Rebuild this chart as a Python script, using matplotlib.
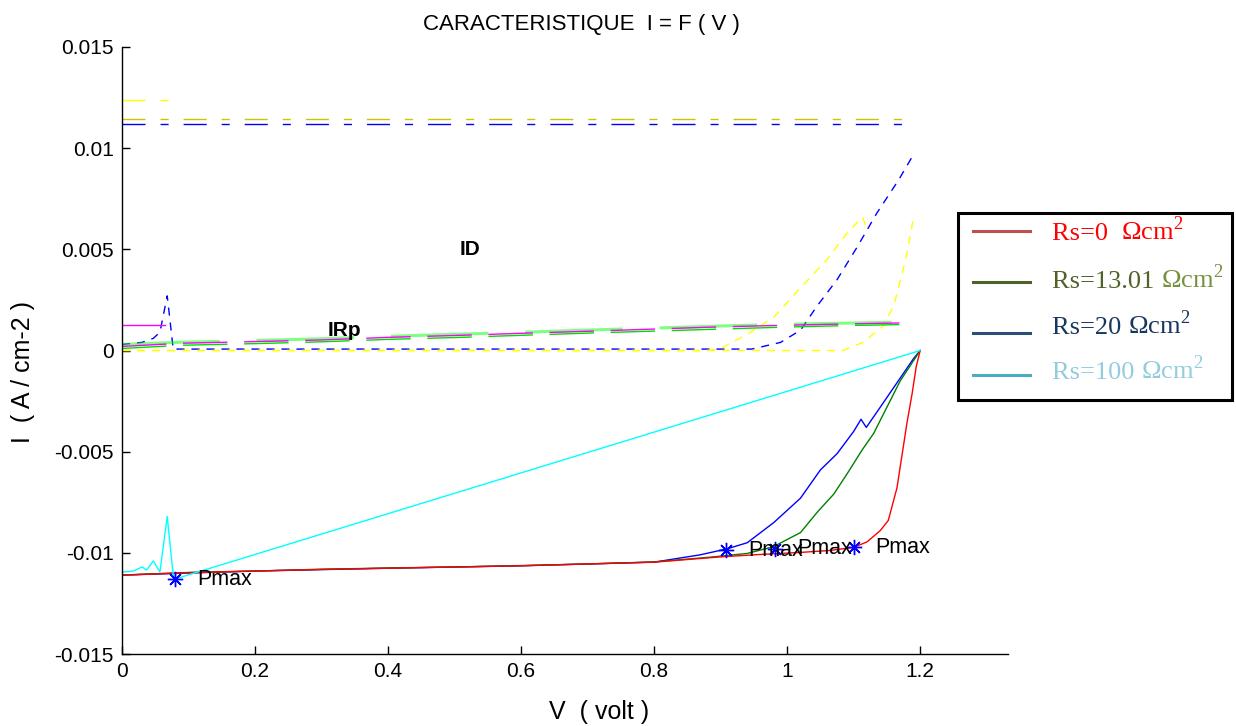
import numpy as np
import matplotlib
matplotlib.use('Agg')
import matplotlib.pyplot as plt
from matplotlib.patches import Rectangle
from matplotlib.lines import Line2D

plt.rcParams['font.family'] = ['Liberation Sans', 'DejaVu Sans']
plt.rcParams['mathtext.fontset'] = 'custom'
plt.rcParams['mathtext.rm'] = 'Liberation Serif'

# --- data ---
# saturation current lines (dash-dot, top)
top_x = [0.0, 1.18]
top_yellow = [0.01145, 0.01145]
top_blue = [0.0112, 0.0112]
top_short_x = [0.0, 0.07]
top_short_yellow = [0.0124, 0.0124]

# ID curves (dashed)
id_yellow1_x = [0.0, 0.3, 0.6, 0.88, 0.9, 0.94, 0.98, 1.02, 1.06, 1.09, 1.113, 1.118]
id_yellow1_y = [0.0, 0.0, 0.0, 0.0, 0.0001, 0.0008, 0.00165, 0.0031, 0.0045, 0.0058, 0.0066, 0.0062]
id_yellow2_x = [0.0, 0.5, 0.9, 1.084, 1.114, 1.144, 1.16, 1.173, 1.182, 1.19]
id_yellow2_y = [0.0, 0.0, 0.0, 0.0, 0.0004, 0.0012, 0.0022, 0.0038, 0.0051, 0.0066]
id_blue_x = [0.0, 0.03, 0.047, 0.057, 0.068, 0.077, 0.3, 0.947, 0.99, 1.02, 1.045, 1.075,
             1.105, 1.135, 1.167, 1.192]
id_blue_y = [0.0003, 0.0004, 0.0006, 0.0009, 0.0027, 0.00007, 0.00007, 0.00007, 0.0004,
             0.001, 0.0022, 0.0035, 0.0051, 0.0068, 0.0084, 0.0098]

# IRp curves (long dashes)
irp_x = [0.0, 0.09, 0.2, 0.3, 0.4, 0.5, 0.6, 0.7, 0.8, 0.9, 1.0, 1.1, 1.17]
irp_magenta = [0.0002, 0.00036, 0.00044, 0.00052, 0.00065, 0.00074, 0.00085, 0.00095,
               0.00106, 0.00117, 0.00125, 0.00132, 0.00136]
irp_green_hi = [0.0003, 0.00041, 0.00049, 0.00058, 0.0007, 0.0008, 0.0009, 0.00101,
                0.00111, 0.00121, 0.0013, 0.00136, 0.0014]
irp_green_lo = [0.0001, 0.00026, 0.00034, 0.00043, 0.00055, 0.00064, 0.00075, 0.00086,
                0.00096, 0.00106, 0.00116, 0.00124, 0.00128]
irp_left_x = [0.0, 0.065]
irp_left_magenta = [0.00125, 0.00125]

# I-V characteristics
red_x = [0, 0.1, 0.2, 0.3, 0.4, 0.5, 0.6, 0.7, 0.8, 0.9, 0.96, 1.02, 1.065, 1.1, 1.12,
         1.14, 1.152, 1.165, 1.173, 1.18, 1.188, 1.194, 1.2]
red_y = [-0.0111, -0.01098, -0.0109, -0.01082, -0.01076, -0.0107, -0.01064, -0.01055,
         -0.01046, -0.0102, -0.01008, -0.00998, -0.00988, -0.00973, -0.00946, -0.0089,
         -0.0084, -0.0068, -0.0051, -0.0036, -0.0021, -0.0008, 0.0]
green_x = [0, 0.1, 0.2, 0.3, 0.4, 0.5, 0.6, 0.7, 0.8, 0.889, 0.94, 0.979, 1.02, 1.045,
           1.07, 1.09, 1.113, 1.13, 1.15, 1.17, 1.19, 1.2]
green_y = [-0.0111, -0.01097, -0.0109, -0.01081, -0.01075, -0.0107, -0.01063, -0.01055,
           -0.01045, -0.0102, -0.01003, -0.0097, -0.009, -0.008, -0.0071, -0.0061,
           -0.0049, -0.0041, -0.0028, -0.0015, -0.0005, 0.0]
blue_x = [0, 0.2, 0.4, 0.6, 0.8, 0.869, 0.91, 0.94, 0.98, 1.02, 1.05, 1.075, 1.1, 1.111,
          1.119, 1.14, 1.165, 1.19, 1.2]
blue_y = [-0.0111, -0.0109, -0.01076, -0.01064, -0.01046, -0.0101, -0.0098, -0.0095,
          -0.0085, -0.0073, -0.0059, -0.0051, -0.004, -0.0034, -0.0038, -0.0028, -0.0016,
          -0.0004, 0.0]
cyan_x = [0, 0.017, 0.03, 0.037, 0.047, 0.057, 0.068, 0.077, 0.082, 1.2]
cyan_y = [-0.01095, -0.0109, -0.0107, -0.01085, -0.0104, -0.01095, -0.0082, -0.0111,
          -0.01127, 0.0]

pmax_x = [0.08, 0.908, 0.982, 1.1]
pmax_y = [-0.0113, -0.00988, -0.0098, -0.00973]

id_label_pos = (0.523, 0.005)
irp_label_pos = (0.335, 0.001)

yticks = [-0.015, -0.01, -0.005, 0, 0.005, 0.01, 0.015]
ytick_labels = ['-0.015', '-0.01', '-0.005', '0', '0.005', '0.01', '0.015']
xticks = [0, 0.2, 0.4, 0.6, 0.8, 1, 1.2]
xtick_labels = ['0', '0.2', '0.4', '0.6', '0.8', '1', '1.2']

legend_labels = ['Rs=0  ', 'Rs=13.01 ', 'Rs=20 ', 'Rs=100 ']
legend_line_colors = ['#c0504d', '#4f6228', '#2c4d75', '#4bacc6']
legend_text_colors = ['#ff0000', '#4f6228', '#17375e', '#93cddd']
legend_unit_colors = ['#ff0000', '#76923c', '#17375e', '#93cddd']

# --- figure ---
fig = plt.figure(figsize=(12.36, 7.26), dpi=100)
W, H = 1236.0, 726.0
ax = fig.add_axes([122 / W, 1 - 654 / H, 886 / W, 607 / H])

# dash lengths in points (lw=1 so no scaling)
dashdot = (0, (16.6, 10.8, 5.8, 10.8))
shortdash = (0, (5.8, 5.0))
longdash = (0, (32, 12))

ax.plot(top_short_x, top_short_yellow, color='#ffff00', lw=1, linestyle=dashdot)
ax.plot(top_x, top_blue, color='#0000ff', lw=1, linestyle=dashdot)
ax.plot(top_x, top_yellow, color='#c8c800', lw=1, linestyle=dashdot)

ax.plot(id_blue_x, id_blue_y, color='#0000ff', lw=1, linestyle=shortdash)
ax.plot(id_yellow1_x, id_yellow1_y, color='#ffff00', lw=1, linestyle=shortdash)
ax.plot(id_yellow2_x, id_yellow2_y, color='#ffff00', lw=1, linestyle=shortdash)

ax.plot(irp_left_x, irp_left_magenta, color='#ff00ff', lw=1)
ax.plot(irp_x, irp_green_hi, color='#00ff00', lw=2.2, alpha=0.5, linestyle=longdash)
ax.plot(irp_x, irp_magenta, color='#ff00ff', lw=1, linestyle=longdash)
ax.plot(irp_x, irp_green_lo, color='#00dd00', lw=1, linestyle=longdash)

ax.plot(blue_x, blue_y, color='#0000ff', lw=1)
ax.plot(green_x, green_y, color='#008000', lw=1)
ax.plot(red_x, red_y, color='#ff0000', lw=1)
ax.plot(cyan_x, cyan_y, color='#00ffff', lw=1)

ax.plot(pmax_x, pmax_y, linestyle='none', marker=(8, 2, 0), ms=11, mew=1, color='#0000ff')
for px, py in zip(pmax_x, pmax_y):
    ax.text(px + 0.033, py, 'Pmax', fontsize=15.5, va='center', ha='left')

ax.text(*id_label_pos, 'ID', fontsize=15, fontweight='bold', ha='center', va='center')
ax.text(*irp_label_pos, 'IRp', fontsize=15, fontweight='bold', ha='center', va='center')

ax.set_xlim(0, 1.332)
ax.set_ylim(-0.015, 0.015)
ax.set_xticks(xticks)
ax.set_xticklabels(xtick_labels)
ax.set_yticks(yticks)
ax.set_yticklabels(ytick_labels)
ax.tick_params(direction='in', length=6, width=1, labelsize=15, pad=6)
ax.spines['top'].set_visible(False)
ax.spines['right'].set_visible(False)
for s in ['left', 'bottom']:
    ax.spines[s].set_linewidth(1)

ax.set_title('CARACTERISTIQUE  I = F ( V )', fontsize=16, x=0.518, pad=12)
ax.set_xlabel('V  ( volt )', fontsize=18)
ax.xaxis.set_label_coords(0.538, -0.075)
ax.set_ylabel('I  ( A / cm-2 )', fontsize=18)
ax.yaxis.set_label_coords(-0.098, 0.465)

# pasted legend box on the right
fig.add_artist(Rectangle((958 / W, 1 - 400 / H), 274 / W, 187 / H, transform=fig.transFigure,
                         fill=False, edgecolor='black', lw=2.2))
rows_line = [231, 282, 333, 375]
rows_base = [240, 288, 334, 379]
for i in range(4):
    yl = 1 - rows_line[i] / H
    fig.add_artist(Line2D([973 / W, 1030 / W], [yl, yl], transform=fig.transFigure,
                          color=legend_line_colors[i], lw=2.2))
    yb = 1 - rows_base[i] / H
    t = fig.text(1052 / W, yb, legend_labels[i], fontsize=19, family='Liberation Serif',
                 color=legend_text_colors[i], va='baseline')
    fig.canvas.draw()
    bb = t.get_window_extent()
    fig.text(bb.x1 / W, yb, r'$\Omega$cm$^\mathregular{2}$', fontsize=19,
             family='Liberation Serif', color=legend_unit_colors[i], va='baseline')

fig.savefig('out.png', dpi=100)
